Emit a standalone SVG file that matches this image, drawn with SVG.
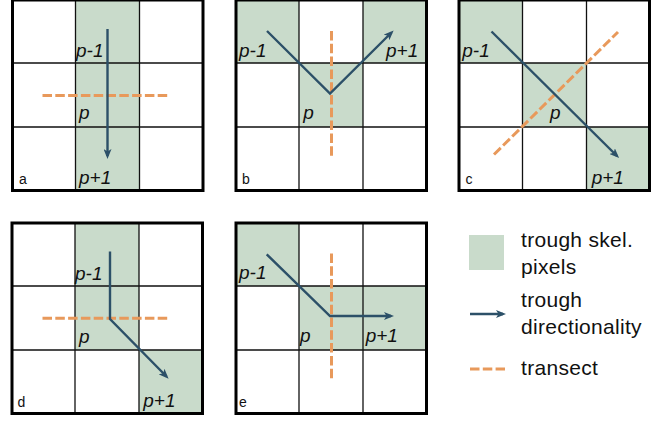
<svg xmlns="http://www.w3.org/2000/svg" width="668" height="421" viewBox="0 0 668 421">
<defs>
<style>
.cell{fill:#c9dbcb;stroke:none}
.grid{fill:none;stroke:#111;stroke-width:1.3}
.frame{fill:none;stroke:#000;stroke-width:3}
.dir{fill:none;stroke:#2c5068;stroke-width:2.4;stroke-linejoin:miter}
.arr{marker-end:url(#ah)}
.tr{fill:none;stroke:#e8995b;stroke-width:3;stroke-dasharray:9.5 3.3}
.pl{font-family:"Liberation Sans",Arial,sans-serif;font-style:italic;font-size:19px;fill:#111}
.pn{font-family:"Liberation Sans",Arial,sans-serif;font-size:14px;fill:#111}
.lg{font-family:"Liberation Sans",Arial,sans-serif;font-size:21px;letter-spacing:0.3px;fill:#111}
</style>
<marker id="ah" markerUnits="userSpaceOnUse" markerWidth="10" markerHeight="8" viewBox="0 0 10 8" refX="7" refY="4" orient="auto">
<path d="M0,0 L10,4 L0,8 L2.5,4 Z" fill="#2c5068"/>
</marker>
</defs>
<rect width="668" height="421" fill="#fff"/>

<g id="panel-a" transform="translate(12.5,0)">
<rect class="cell" x="63" y="0" width="64" height="190.5"/>
<path class="grid" d="M63,0V190.5M127,0V190.5M0,63H190.5M0,127H190.5"/>
<rect class="frame" x="0" y="0" width="190.5" height="190.5"/>
<g class="connectors">
<line class="tr" x1="30" y1="95.5" x2="158" y2="95.5"/>
<line class="dir arr" x1="95" y1="29" x2="95" y2="156"/>
</g>
<text class="pl" x="63.5" y="56.7">p-1</text>
<text class="pl" x="66.5" y="119">p</text>
<text class="pl" x="66.5" y="183.5">p+1</text>
<text class="pn" x="6.5" y="183.5">a</text>
</g>

<g id="panel-b" transform="translate(236,0)">
<rect class="cell" x="0" y="0" width="63" height="63"/>
<rect class="cell" x="127" y="0" width="63.5" height="63"/>
<rect class="cell" x="63" y="63" width="64" height="64"/>
<path class="grid" d="M63,0V190.5M127,0V190.5M0,63H190.5M0,127H190.5"/>
<rect class="frame" x="0" y="0" width="190.5" height="190.5"/>
<g class="connectors">
<line class="tr" x1="95.5" y1="31" x2="95.5" y2="157"/>
<polyline class="dir arr" points="31,31 94,93.5 155.5,32.5"/>
</g>
<text class="pl" x="3" y="56.7">p-1</text>
<text class="pl" x="150" y="56.7">p+1</text>
<text class="pl" x="67.3" y="119">p</text>
<text class="pn" x="6" y="183.5">b</text>
</g>

<g id="panel-c" transform="translate(459,0)">
<rect class="cell" x="0" y="0" width="63.5" height="63"/>
<rect class="cell" x="63.5" y="63" width="64" height="64"/>
<rect class="cell" x="127.5" y="127" width="63" height="63.5"/>
<path class="grid" d="M63.5,0V190.5M127.5,0V190.5M0,63H190.5M0,127H190.5"/>
<rect class="frame" x="0" y="0" width="190.5" height="190.5"/>
<g class="connectors">
<line class="tr" x1="35" y1="154.5" x2="159" y2="32"/>
<line class="dir arr" x1="32.5" y1="31.5" x2="158" y2="156"/>
</g>
<text class="pl" x="3.3" y="56.7">p-1</text>
<text class="pl" x="91" y="119">p</text>
<text class="pl" x="132.7" y="183.5">p+1</text>
<text class="pn" x="6.5" y="183.5">c</text>
</g>

<g id="panel-d" transform="translate(12,223)">
<rect class="cell" x="63" y="0" width="64" height="127"/>
<rect class="cell" x="127" y="127" width="63.5" height="63.5"/>
<path class="grid" d="M63,0V190.5M127,0V190.5M0,63H190.5M0,127H190.5"/>
<rect class="frame" x="0" y="0" width="190.5" height="190.5"/>
<g class="connectors">
<line class="tr" x1="30.5" y1="95.3" x2="158.5" y2="95.3"/>
<polyline class="dir arr" points="98,28.5 98,96 154.5,153.5"/>
</g>
<text class="pl" x="63" y="57">p-1</text>
<text class="pl" x="67" y="120">p</text>
<text class="pl" x="131.3" y="183.7">p+1</text>
<text class="pn" x="5.5" y="183.5">d</text>
</g>

<g id="panel-e" transform="translate(236,223)">
<rect class="cell" x="0" y="0" width="63" height="63"/>
<rect class="cell" x="63" y="63" width="127.5" height="64"/>
<path class="grid" d="M63,0V190.5M127,0V190.5M0,63H190.5M0,127H190.5"/>
<rect class="frame" x="0" y="0" width="190.5" height="190.5"/>
<g class="connectors">
<line class="tr" x1="95.5" y1="30.5" x2="95.5" y2="157"/>
<polyline class="dir arr" points="30.7,31.3 94,93 155,93"/>
</g>
<text class="pl" x="3" y="55.5">p-1</text>
<text class="pl" x="64" y="119.3">p</text>
<text class="pl" x="129.7" y="119.3">p+1</text>
<text class="pn" x="3" y="183.5">e</text>
</g>

<g id="legend">
<g id="legend-pixels">
<rect class="cell" x="469" y="235" width="35" height="35"/>
<text class="lg" x="521" y="247">trough skel.</text>
<text class="lg" x="521" y="273.5">pixels</text>
</g>
<g id="legend-direction">
<line class="dir arr" x1="470" y1="314" x2="503" y2="314"/>
<text class="lg" x="521" y="306.5">trough</text>
<text class="lg" x="521" y="333.5">directionality</text>
</g>
<g id="legend-transect">
<line class="tr" x1="470" y1="369" x2="505" y2="369"/>
<text class="lg" x="521" y="375">transect</text>
</g>
</g>
</svg>
